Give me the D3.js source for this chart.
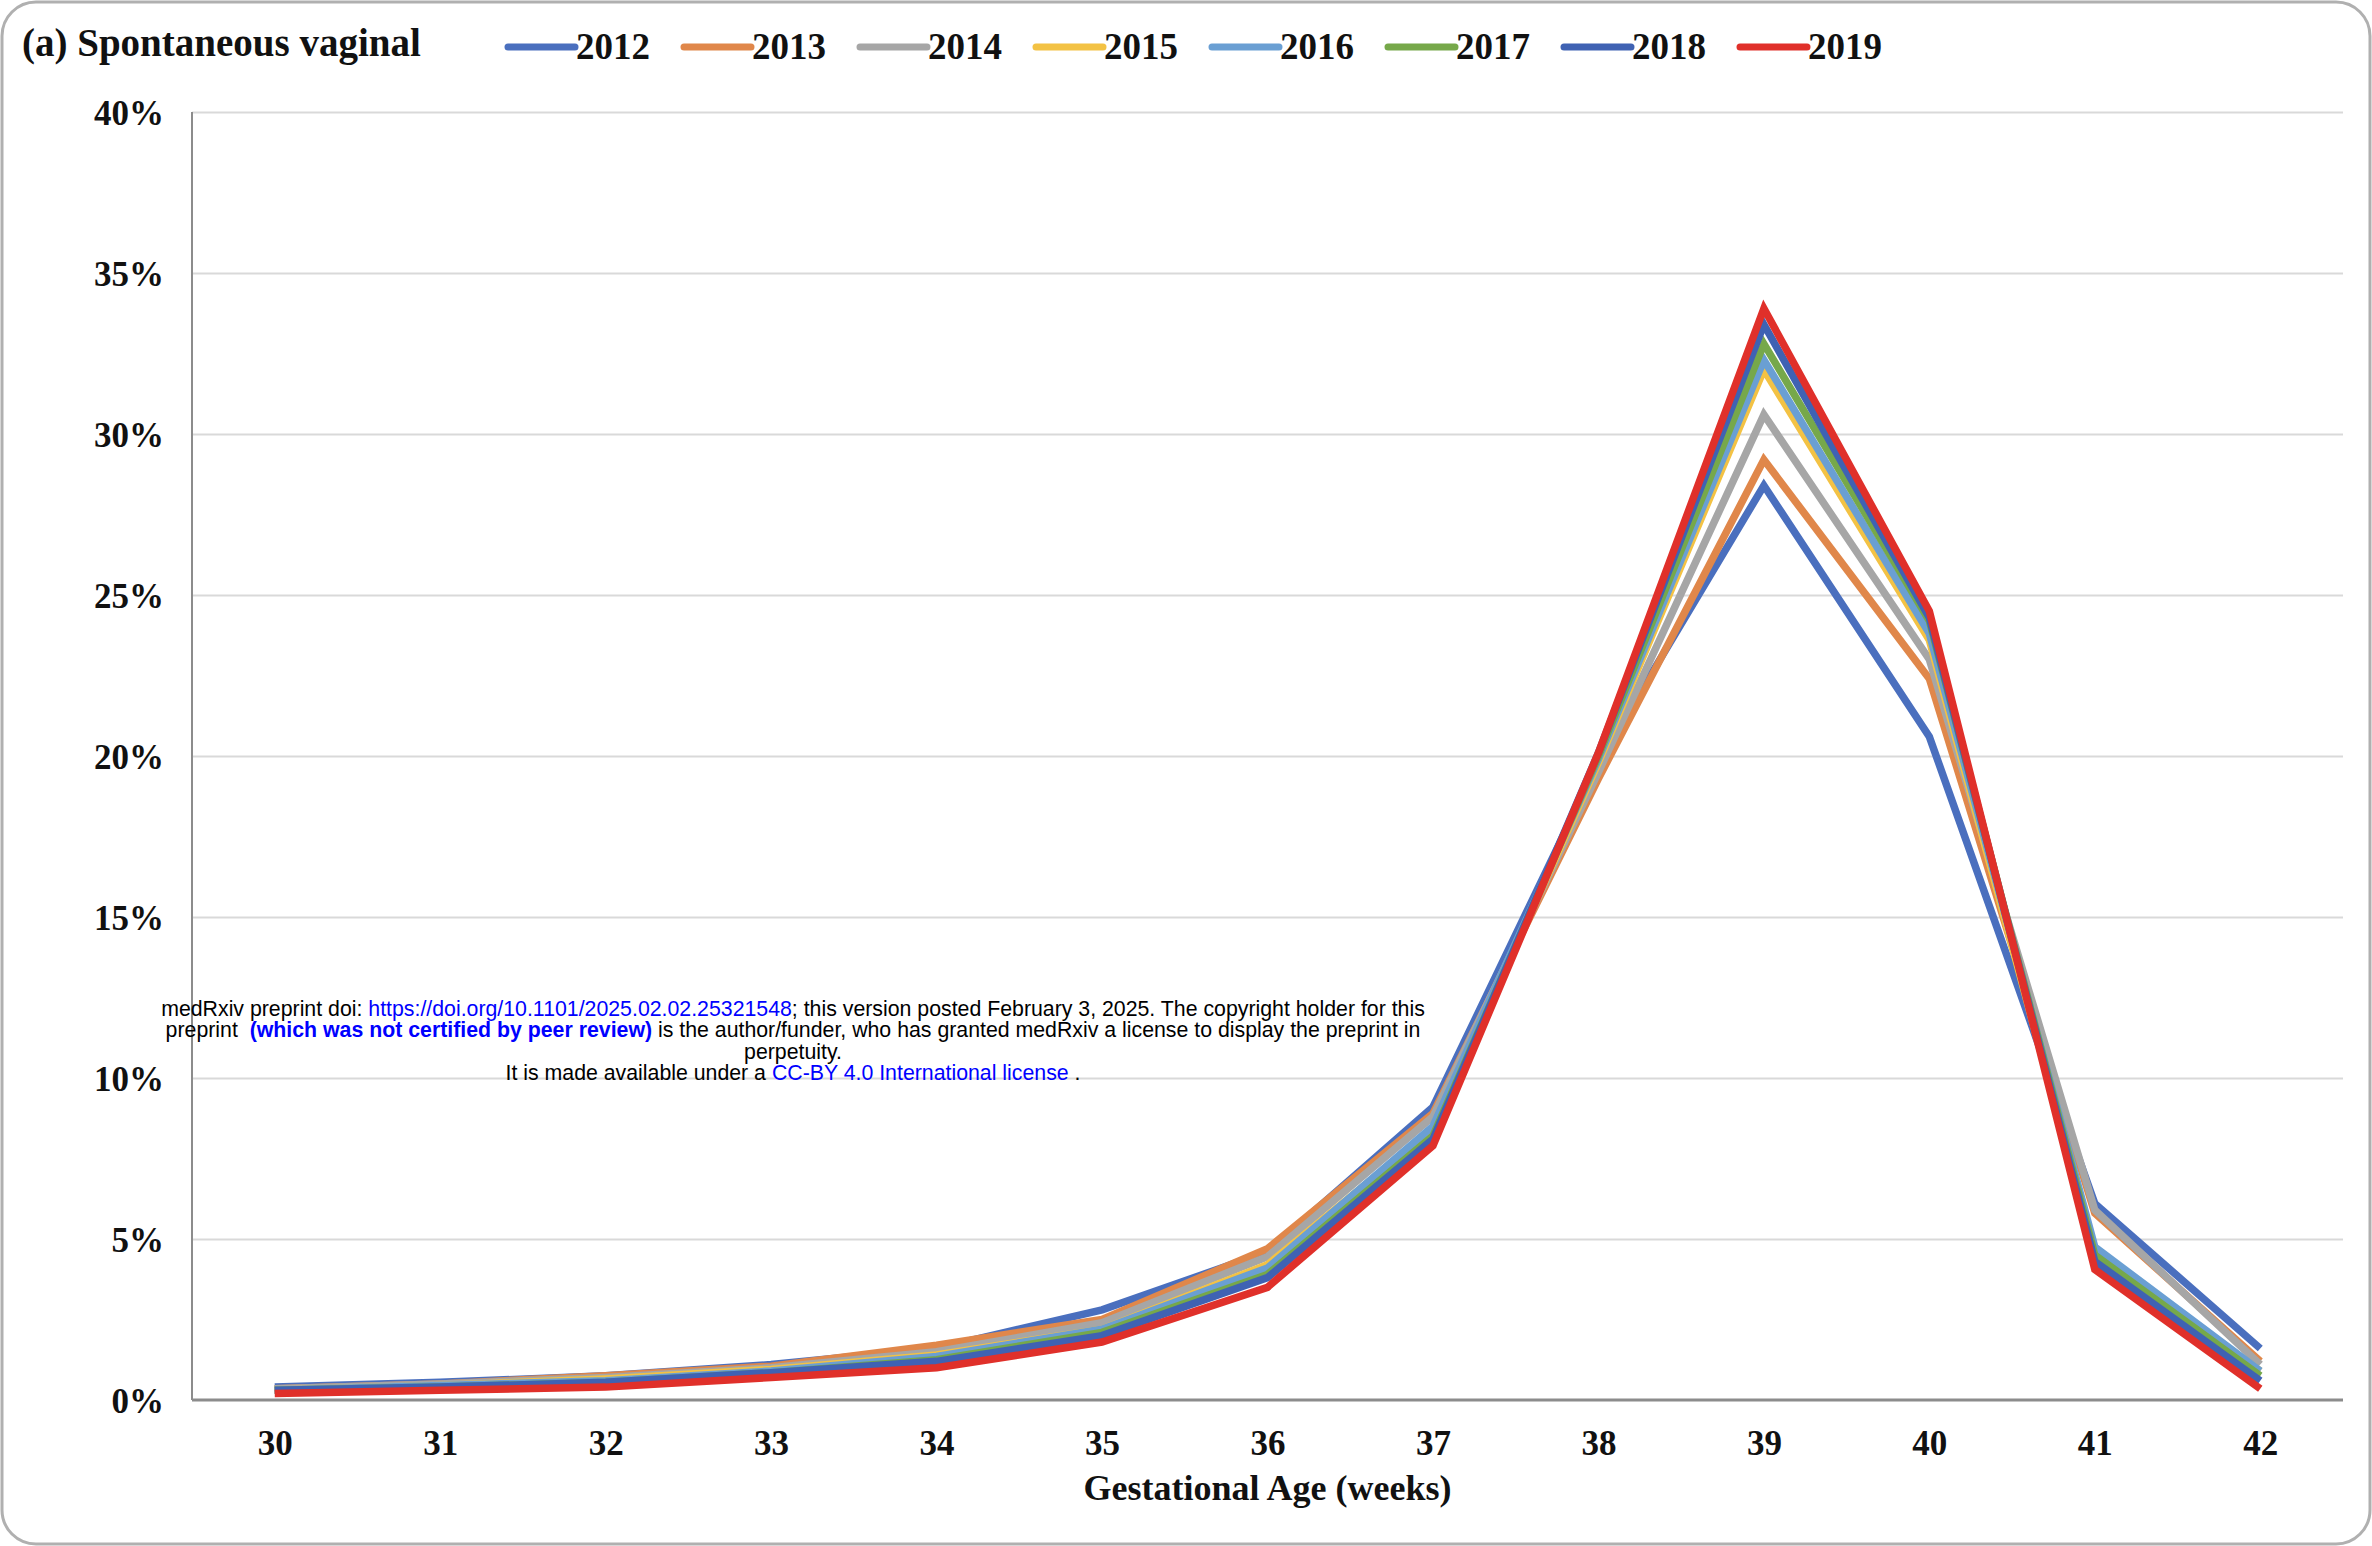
<!DOCTYPE html>
<html>
<head>
<meta charset="utf-8">
<script src="https://cdn.jsdelivr.net/npm/d3@7"></script>
<style>
  html, body { margin: 0; padding: 0; background: #fff; }
  svg { display: block; }
  .serif { font-family: "Liberation Serif", "Times New Roman", serif; font-weight: bold; fill: #111; }
  .wm { font-family: "Liberation Sans", Arial, sans-serif; font-size: 21.3px; fill: #000; }
</style>
</head>
<body>
<div id="chart"></div>
<script>
// Share of spontaneous vaginal births by gestational week, one line per year.
var weeks = [30, 31, 32, 33, 34, 35, 36, 37, 38, 39, 40, 41, 42];
var years = ["2012", "2013", "2014", "2015", "2016", "2017", "2018", "2019"];
var yTicks = [0, 5, 10, 15, 20, 25, 30, 35, 40];

// values in percent
var v2012 = [0.40, 0.55, 0.75, 1.10, 1.60, 2.80, 4.60, 9.10, 19.8, 28.4, 20.6, 6.10, 1.60];
var v2013 = [0.35, 0.50, 0.75, 1.05, 1.70, 2.50, 4.70, 8.90, 19.3, 29.2, 22.4, 5.80, 1.20];
var v2014 = [0.35, 0.50, 0.70, 1.00, 1.50, 2.40, 4.45, 8.80, 19.5, 30.6, 23.0, 5.90, 1.10];
var v2015 = [0.30, 0.45, 0.65, 0.95, 1.40, 2.20, 4.20, 8.40, 19.8, 32.0, 23.6, 4.60, 0.90];
var v2016 = [0.30, 0.45, 0.60, 0.90, 1.35, 2.20, 4.10, 8.50, 19.9, 32.3, 23.8, 4.75, 0.90];
var v2017 = [0.30, 0.40, 0.55, 0.85, 1.25, 2.10, 3.90, 8.20, 20.0, 32.8, 24.2, 4.50, 0.75];
var v2018 = [0.30, 0.40, 0.55, 0.85, 1.20, 2.00, 3.80, 8.10, 20.1, 33.4, 24.3, 4.30, 0.60];
var v2019 = [0.20, 0.30, 0.40, 0.70, 1.00, 1.80, 3.50, 7.90, 20.1, 33.9, 24.5, 4.05, 0.35];

var colours = ["#4A6FBE", "#E0874A", "#A6A6A6", "#F3C244", "#6A9FD3", "#76A84A", "#3F62B3", "#E0302A"];

(function () {
  var series = [v2012, v2013, v2014, v2015, v2016, v2017, v2018, v2019].map(function (vals, i) {
    return { year: years[i], colour: colours[i], values: vals };
  });

  var W = 2372, H = 1546;
  var plotL = 192, plotR = 2343, plotT = 112, plotB = 1400;

  var svg = d3.select("#chart").append("svg")
    .attr("width", W).attr("height", H);

  // rounded frame round the whole figure
  svg.append("rect")
    .attr("x", 2).attr("y", 2).attr("width", W - 4).attr("height", H - 4)
    .attr("rx", 34).attr("fill", "#fff")
    .attr("stroke", "#b0b0b0").attr("stroke-width", 3);

  var x = d3.scalePoint().domain(weeks).range([plotL, plotR]).padding(0.5);
  var y = d3.scaleLinear().domain([0, 40]).range([plotB, plotT]);

  // -- gridlines and y labels -------------------------------------------
  var yAxis = svg.append("g").attr("transform", "translate(" + plotL + ",0)")
    .call(d3.axisLeft(y).tickValues(yTicks)
      .tickSize(-(plotR - plotL)).tickPadding(28)
      .tickFormat(function (d) { return d + "%"; }));
  yAxis.select(".domain").remove();
  yAxis.selectAll(".tick line")
    .attr("stroke", function (d) { return d === 0 ? "none" : "#d9d9d9"; })
    .attr("stroke-width", 2);
  yAxis.selectAll(".tick text")
    .attr("class", "serif").attr("font-size", 35).attr("dy", "0.36em");

  svg.append("line")
    .attr("x1", plotL).attr("x2", plotL).attr("y1", plotT).attr("y2", plotB)
    .attr("stroke", "#8c8c8c").attr("stroke-width", 2);

  // -- x axis -----------------------------------------------------------
  var xAxis = svg.append("g").attr("transform", "translate(0," + plotB + ")")
    .call(d3.axisBottom(x).tickSize(0).tickPadding(55));
  xAxis.select(".domain")
    .attr("d", "M" + plotL + ",0H" + plotR)
    .attr("stroke", "#8c8c8c").attr("stroke-width", 3);
  xAxis.selectAll(".tick text")
    .attr("class", "serif").attr("font-size", 35).attr("dy", "0");

  svg.append("text").attr("class", "serif")
    .attr("x", (plotL + plotR) / 2).attr("y", 1500)
    .attr("text-anchor", "middle").attr("font-size", 36)
    .text("Gestational Age (weeks)");

  // -- lines --------------------------------------------------------------
  var line = d3.line()
    .x(function (d, i) { return x(weeks[i]); })
    .y(function (d) { return y(d); });

  svg.append("g").selectAll("path")
    .data(series).join("path")
    .attr("d", function (s) { return line(s.values); })
    .attr("fill", "none")
    .attr("stroke", function (s) { return s.colour; })
    .attr("stroke-width", 7.5)
    .attr("stroke-linejoin", "miter");

  // -- title and legend ---------------------------------------------------
  svg.append("text").attr("class", "serif")
    .attr("x", 22).attr("y", 56).attr("font-size", 39)
    .text("(a) Spontaneous vaginal");

  var legend = svg.append("g").selectAll("g")
    .data(series).join("g")
    .attr("transform", function (s, i) { return "translate(" + (508 + i * 176) + ",0)"; });
  legend.append("line")
    .attr("x1", 0).attr("x2", 67).attr("y1", 47).attr("y2", 47)
    .attr("stroke", function (s) { return s.colour; })
    .attr("stroke-width", 7).attr("stroke-linecap", "round");
  legend.append("text").attr("class", "serif")
    .attr("x", 68).attr("y", 59).attr("font-size", 37)
    .text(function (s) { return s.year; });

  // -- medRxiv stamp ----------------------------------------------------------
  var stamp = [
    [["medRxiv preprint doi: ", "#000", false], ["https://doi.org/10.1101/2025.02.02.25321548", "#0000ff", false],
     ["; this version posted February 3, 2025. The copyright holder for this", "#000", false]],
    [["preprint ", "#000", false], [" (which was not certified by peer review)", "#0000ff", true],
     [" is the author/funder, who has granted medRxiv a license to display the preprint in", "#000", false]],
    [["perpetuity.", "#000", false]],
    [["It is made available under a ", "#000", false], ["CC-BY 4.0 International license", "#0000ff", false], [" .", "#000", false]]
  ];
  var wm = svg.append("g");
  stamp.forEach(function (parts, i) {
    var t = wm.append("text").attr("class", "wm")
      .attr("x", 793).attr("y", 1016 + i * 21.3).attr("text-anchor", "middle")
      .attr("xml:space", "preserve");
    parts.forEach(function (p) {
      t.append("tspan").attr("fill", p[1])
        .attr("font-weight", p[2] ? "bold" : null)
        .text(p[0]);
    });
  });
})();
</script>
</body>
</html>
